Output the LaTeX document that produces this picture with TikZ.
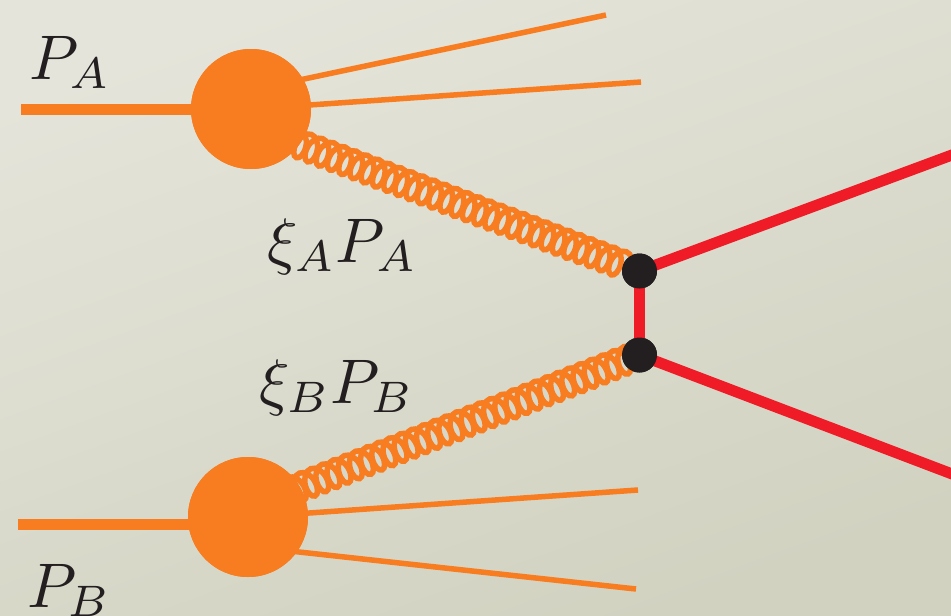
\documentclass[tikz,border=0pt]{standalone}
\usetikzlibrary{decorations.pathmorphing}
\definecolor{blobc}{HTML}{F87C20}
\definecolor{redc}{HTML}{EF1C27}
\definecolor{inkc}{HTML}{231F20}
\definecolor{bgA}{HTML}{E4E4DA}
\definecolor{bgB}{HTML}{D2D2C1}
\tikzset{
  blob/.style={circle,fill=blobc,minimum size=120pt,inner sep=0pt,outer sep=0pt},
  vertexdot/.style={circle,fill=inkc,minimum size=35pt,inner sep=0pt,outer sep=0pt},
  beam/.style={draw=blobc,line width=11pt},
  jet/.style={draw=blobc,line width=5.5pt},
  quark/.style={draw=redc,line width=11pt},
  gluon/.style={draw=blobc,line width=5.5pt,decorate,decoration={coil,amplitude=13.5pt,segment length=12pt,aspect=0.6}},
  lab/.style={text=inkc,scale=6.3,inner sep=0pt,anchor=base west}
}
\begin{document}
\begin{tikzpicture}[x=1pt,y=-1pt]
\useasboundingbox (0,0) rectangle (951,616);
\shade[top color=bgA,bottom color=bgB,shading angle=20] (0,0) rectangle (951,616);
\clip (0,0) rectangle (951,616);
\coordinate (ainL) at (21,109);
\coordinate (binL) at (18,524);
\coordinate (binR) at (200,524);
\coordinate (a1s) at (290,82);
\coordinate (a1e) at (606,15);
\coordinate (a2s) at (295,106);
\coordinate (a2e) at (641,82);
\coordinate (b1s) at (295,514);
\coordinate (b1e) at (638,490);
\coordinate (b2s) at (290,551);
\coordinate (b2e) at (636,589);
\coordinate (q1e) at (960,152);
\coordinate (q2e) at (960,477);
\coordinate (ga) at (285,139);
\coordinate (gb) at (283,494);
\node[blob] (A) at (251,109) {};
\node[blob] (B) at (248,517) {};
\node[vertexdot] (U) at (639.5,271) {};
\node[vertexdot] (D) at (639.5,355) {};
\draw[gluon] (ga) -- (U.center);
\draw[gluon] (gb) -- (D.center);
\draw[beam] (ainL) -- (A.center);
\draw[beam] (binL) -- (binR);
\draw[jet] (a1s) -- (a1e);
\draw[jet] (a2s) -- (a2e);
\draw[jet] (b1s) -- (b1e);
\draw[jet] (b2s) -- (b2e);
\draw[quark] (U.center) -- (D.center);
\draw[quark] (U.center) -- (q1e);
\draw[quark] (D.center) -- (q2e);
\node[blob] at (A.center) {};
\node[blob] at (B.center) {};
\node[vertexdot] at (U.center) {};
\node[vertexdot] at (D.center) {};
\node[lab] (pa) at (28,79) {$P_A$};
\node[lab] (pb) at (26,607) {$P_B$};
\node[lab] (xa) at (266,262) {$\xi_A P_A$};
\node[lab] (xb) at (258,403) {$\xi_B P_B$};
\end{tikzpicture}
\end{document}
